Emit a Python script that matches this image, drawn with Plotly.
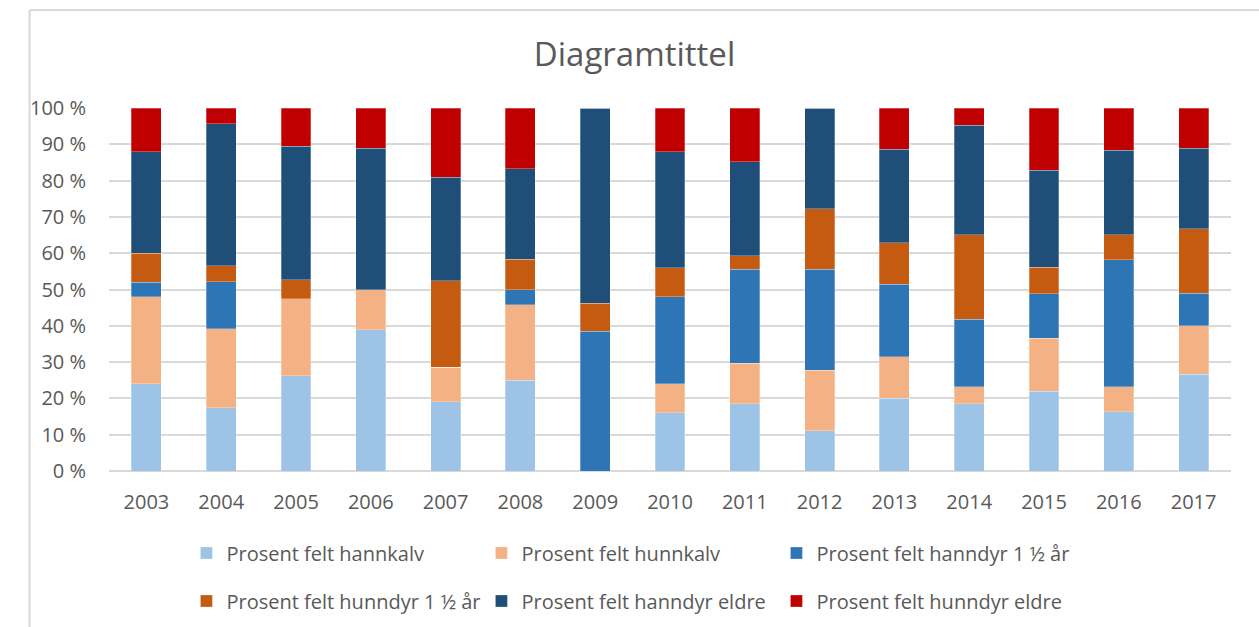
import plotly.graph_objects as go

years = ["2003", "2004", "2005", "2006", "2007", "2008", "2009", "2010",
         "2011", "2012", "2013", "2014", "2015", "2016", "2017"]

hannkalv = [24.0, 17.4, 26.3, 38.9, 19.0, 25.0, 0.0, 16.0, 18.5, 11.1, 20.0, 18.6, 22.0, 16.3, 26.7]
hunnkalv = [24.0, 21.7, 21.1, 11.1, 9.5, 20.8, 0.0, 8.0, 11.1, 16.7, 11.4, 4.7, 14.6, 7.0, 13.3]
hanndyr_15 = [4.0, 13.0, 0.0, 0.0, 0.0, 4.2, 38.5, 24.0, 25.9, 27.8, 20.0, 18.6, 12.2, 34.9, 8.9]
hunndyr_15 = [8.0, 4.3, 5.3, 0.0, 23.8, 8.3, 7.7, 8.0, 3.7, 16.7, 11.4, 23.3, 7.3, 7.0, 17.8]
hanndyr_eldre = [28.0, 39.1, 36.8, 38.9, 28.6, 25.0, 53.8, 32.0, 25.9, 27.8, 25.7, 30.2, 26.8, 23.3, 22.2]
hunndyr_eldre = [12.0, 4.3, 10.5, 11.1, 19.0, 16.7, 0.0, 12.0, 14.8, 0.0, 11.4, 4.7, 17.1, 11.6, 11.1]

series_names = ["Prosent felt hannkalv", "Prosent felt hunnkalv", "Prosent felt hanndyr 1 ½ år",
                "Prosent felt hunndyr 1 ½ år", "Prosent felt hanndyr eldre", "Prosent felt hunndyr eldre"]
series_values = [hannkalv, hunnkalv, hanndyr_15, hunndyr_15, hanndyr_eldre, hunndyr_eldre]
series_colors = ["#9DC3E6", "#F4B183", "#2E75B6", "#C55A11", "#1F4E79", "#C00000"]
series_legend = ["legend", "legend", "legend", "legend2", "legend2", "legend2"]

y_ticks = [0, 10, 20, 30, 40, 50, 60, 70, 80, 90, 100]
y_ticktext = [f"{v} %" for v in y_ticks]

FONT = "Open Sans, Noto Sans, sans-serif"
GREY = "#595959"

fig = go.Figure()
for name, vals, col, lg in zip(series_names, series_values, series_colors, series_legend):
    fig.add_trace(go.Bar(
        x=years, y=vals, name=name, legend=lg,
        marker=dict(color=col, line=dict(color="rgba(255,255,255,0.35)", width=0.8)),
    ))

W, H = 1259, 627
L, R, T, B = 108.5, 27.5, 108, 156
pw, ph = W - L - R, H - T - B

legend_common = dict(orientation="h", xanchor="left", yanchor="middle",
                     traceorder="normal", entrywidth=250, entrywidthmode="pixels",
                     font=dict(family=FONT, size=20, color=GREY), bgcolor="rgba(0,0,0,0)")

fig.update_layout(
    width=W, height=H,
    barmode="stack", barnorm="percent", bargap=0.6,
    margin=dict(l=L, r=R, t=T, b=B, autoexpand=False),
    paper_bgcolor="white", plot_bgcolor="white",
    font=dict(family=FONT, color=GREY, size=20),
    title=dict(text="Diagramtittel", x=0.504, xref="container", xanchor="center",
               y=1 - 54 / H, yref="container", yanchor="middle",
               font=dict(family=FONT, size=33, color=GREY)),
    xaxis=dict(showgrid=False, showline=False, ticks="", tickfont=dict(size=20, color=GREY),
               ticklabelstandoff=17),
    yaxis=dict(range=[0, 100], tickvals=y_ticks, ticktext=y_ticktext,
               showgrid=True, gridcolor="#D9D9D9", gridwidth=1.5,
               zeroline=True, zerolinecolor="#D9D9D9", zerolinewidth=1.5,
               showline=False, ticks="", tickfont=dict(size=20, color=GREY),
               ticklabelstandoff=22),
    legend=dict(x=(186 - L) / pw, y=(471 - 553) / ph, **legend_common),
    legend2=dict(x=(186 - L) / pw, y=(471 - 601) / ph, **legend_common),
    showlegend=True,
)

# outer chart frame (left and top edges visible)
fx = (29 - L) / pw
fy = (471 - 10) / ph
fig.add_shape(type="line", xref="paper", yref="paper", x0=fx, x1=fx, y0=-1.0, y1=fy,
              line=dict(color="#D9D9D9", width=2))
fig.add_shape(type="line", xref="paper", yref="paper", x0=fx, x1=1.2, y0=fy, y1=fy,
              line=dict(color="#D9D9D9", width=2))

fig.write_html("out.html", config={"displayModeBar": False},
               post_script="document.body.style.margin='0';document.body.style.overflow='hidden';")
